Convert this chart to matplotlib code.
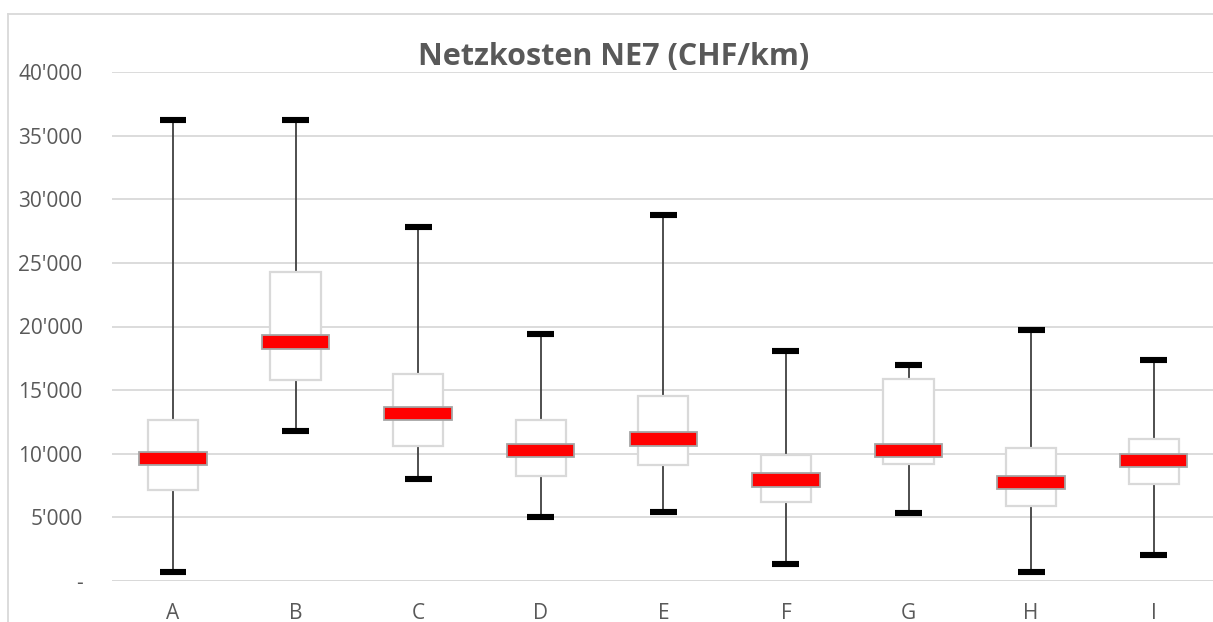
import matplotlib
matplotlib.use("Agg")
import matplotlib.pyplot as plt
from matplotlib.lines import Line2D
from matplotlib.ticker import FuncFormatter

categories = ["A", "B", "C", "D", "E", "F", "G", "H", "I"]
whisker_low = [730, 11790, 8020, 5030, 5420, 1340, 5340, 710, 2040]
q1 = [7150, 15820, 10610, 8230, 9090, 6230, 9190, 5870, 7620]
median = [9650, 18780, 13140, 10240, 11160, 7940, 10240, 7750, 9480]
q3 = [12650, 24260, 16270, 12630, 14540, 9900, 15870, 10450, 11130]
whisker_high = [36230, 36230, 27820, 19410, 28760, 18100, 16970, 19720, 17370]

GREY_TXT = "#595959"
GRID = "#d9d9d9"
MED_H = 1050  # thickness of the red median marker, in data units

plt.rcParams['font.family'] = ['Open Sans', 'DejaVu Sans']

fig = plt.figure(figsize=(12.13, 6.22), dpi=100)
ax = fig.add_axes([111.7 / 1213, 1 - 581 / 622, 1103.3 / 1213, 509 / 622])

x = list(range(len(categories)))

# whiskers behind the boxes
ax.vlines(x, whisker_low, whisker_high, color="#404040", lw=1.3, zorder=2)
ax.hlines(whisker_high, [i - 0.11 for i in x], [i + 0.11 for i in x], color="black", lw=4.4, zorder=5)
ax.hlines(whisker_low, [i - 0.11 for i in x], [i + 0.11 for i in x], color="black", lw=4.4, zorder=5)

# boxes
heights = [b - a for a, b in zip(q1, q3)]
ax.bar(x, heights, bottom=q1, width=0.41, facecolor="white", edgecolor=GRID, lw=1.6, zorder=3)

# median markers
ax.bar(x, MED_H, bottom=[m - MED_H / 2 for m in median], width=0.55,
       facecolor="#ff0000", edgecolor="#a6a6a6", lw=1.3, zorder=4)

ax.set_xlim(-0.5, 8.5)
ax.set_ylim(0, 40000)
ax.set_yticks(range(0, 40001, 5000))
ax.yaxis.set_major_formatter(FuncFormatter(lambda v, p: "-" if v == 0 else f"{int(v):,}".replace(",", "'")))
ax.set_xticks(x)
ax.set_xticklabels(categories)

ax.grid(axis="y", color=GRID, lw=1.3, zorder=0)
ax.set_axisbelow(True)
for s in ax.spines.values():
    s.set_visible(False)
ax.tick_params(axis="y", length=0, pad=21, labelsize=15, labelcolor=GREY_TXT)
ax.tick_params(axis="x", length=0, pad=16, labelsize=15, labelcolor=GREY_TXT)
ax.axhline(0, color=GRID, lw=1.3, zorder=1)

fig.text(0.5055, 1 - 57 / 622, "Netzkosten NE7 (CHF/km)", ha="center", va="center",
         fontsize=22, fontweight="bold", color=GREY_TXT)

# chart area border: only the top and left edges are inside the picture
bx, by = 7.5 / 1213, 1 - 14 / 622
fig.add_artist(Line2D([bx, 1.0], [by, by], transform=fig.transFigure, color=GRID, lw=1.3))
fig.add_artist(Line2D([bx, bx], [0.0, by], transform=fig.transFigure, color=GRID, lw=1.3))

fig.savefig("out.png", dpi=100)
